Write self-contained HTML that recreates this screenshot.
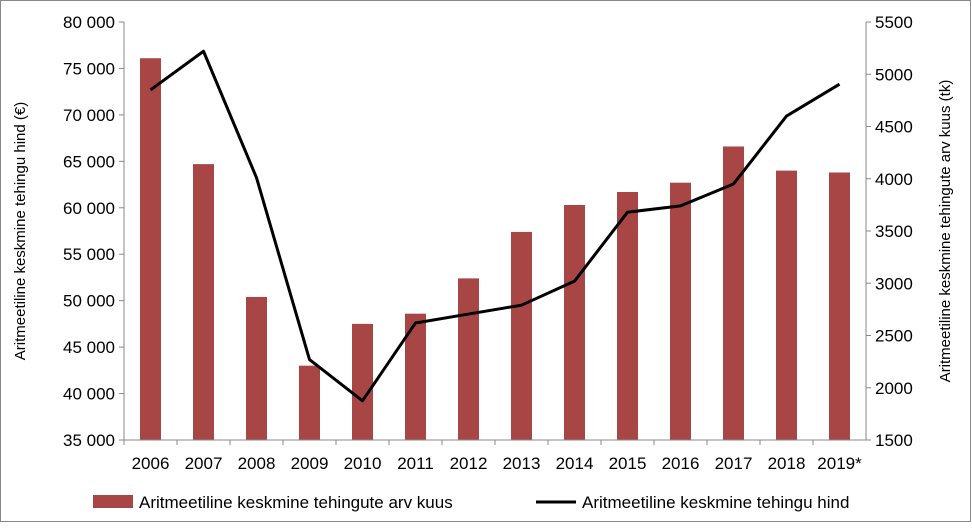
<!DOCTYPE html>
<html><head><meta charset="utf-8"><style>
body{margin:0;background:#fff;font-family:"Liberation Sans",sans-serif;}
svg text{font-family:"Liberation Sans",sans-serif;}
</style></head><body>
<svg id="chart" width="972" height="523" xmlns="http://www.w3.org/2000/svg">
<rect x="0.5" y="0.5" width="970" height="521" fill="#fff" stroke="#888"/>
<g id="plot"></g>
</svg>
<script>
const categories=["2006","2007","2008","2009","2010","2011","2012","2013","2014","2015","2016","2017","2018","2019*"];
const barValues=[76100,64700,50400,43000,47500,48600,52400,57400,60300,61700,62700,66600,64000,63800];
const lineValues=[4850,5220,4010,2270,1875,2620,2705,2790,3020,3680,3740,3950,4600,4905];
const leftTicks=[35000,40000,45000,50000,55000,60000,65000,70000,75000,80000];
const rightTicks=[1500,2000,2500,3000,3500,4000,4500,5000,5500];
const NS="http://www.w3.org/2000/svg";
const L=124,R=866,T=22,B=440;
const yL=v=>B-(v-35000)/(80000-35000)*(B-T);
const yR=v=>B-(v-1500)/(5500-1500)*(B-T);
const bw=(R-L)/categories.length;
const xc=i=>L+bw*(i+0.5);
const g=document.getElementById('plot');
function mk(t,a,p){const e=document.createElementNS(NS,t);for(const k in a)e.setAttribute(k,a[k]);(p||g).appendChild(e);return e;}
const fmt=v=>{const s=String(v);return s.length>3?s.slice(0,-3)+" "+s.slice(-3):s;};
barValues.forEach((v,i)=>{const r=mk('rect',{x:xc(i)-10.5,y:yL(v),width:21,height:B-yL(v),fill:'#A84646'});

});
const pts=lineValues.map((v,i)=>xc(i)+','+yR(v)).join(' ');
const pl=mk('polyline',{points:pts,fill:'none',stroke:'#000','stroke-width':3,'stroke-linejoin':'round'});


mk('line',{x1:L,y1:T,x2:L,y2:B,stroke:'#888'});
mk('line',{x1:R,y1:T,x2:R,y2:B,stroke:'#888'});
mk('line',{x1:L,y1:B,x2:R,y2:B,stroke:'#888'});
leftTicks.forEach(v=>{mk('line',{x1:L-5,y1:yL(v),x2:L,y2:yL(v),stroke:'#888'});
const t=mk('text',{x:L-9,y:yL(v)+6,'text-anchor':'end','font-size':17,fill:'#000'});t.textContent=fmt(v);

});
rightTicks.forEach(v=>{mk('line',{x1:R,y1:yR(v),x2:R+5,y2:yR(v),stroke:'#888'});
const t=mk('text',{x:R+9,y:yR(v)+6,'font-size':17,fill:'#000'});t.textContent=v;

});
categories.forEach((c,i)=>{mk('line',{x1:L+bw*i,y1:B,x2:L+bw*i,y2:B+5,stroke:'#888'});
const t=mk('text',{x:xc(i),y:B+29,'text-anchor':'middle','font-size':17,fill:'#000'});t.textContent=c;

});
</script>
<svg style="position:absolute;left:0;top:0" width="972" height="523" xmlns="http://www.w3.org/2000/svg">
<text x="25" y="231" transform="rotate(-90 25 231)" text-anchor="middle" font-size="15">Aritmeetiline keskmine tehingu hind (€)</text>
<text x="950" y="231" transform="rotate(-90 950 231)" text-anchor="middle" font-size="15">Aritmeetiline keskmine tehingute arv kuus (tk)</text>
<g>
<rect x="93" y="495" width="40" height="13" fill="#A84646"/>
<text x="139" y="508" font-size="17">Aritmeetiline keskmine tehingute arv kuus</text>
<line x1="536" y1="502" x2="576" y2="502" stroke="#000" stroke-width="3"/>
<text x="582" y="508" font-size="17">Aritmeetiline keskmine tehingu hind</text>
</g>
</svg>
</body></html>
